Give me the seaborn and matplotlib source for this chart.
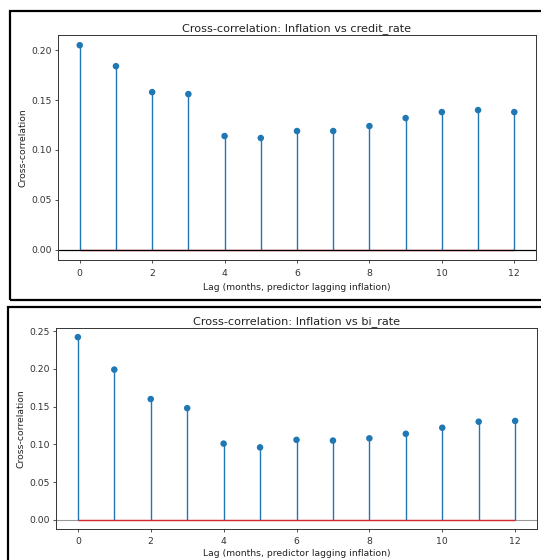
import numpy as np
import matplotlib
matplotlib.use("Agg")
import matplotlib.pyplot as plt
import seaborn as sns
from matplotlib.patches import Rectangle

lags = list(range(13))
credit_rate_ccf = [0.205, 0.184, 0.158, 0.156, 0.114, 0.112, 0.119, 0.119, 0.124, 0.132, 0.138, 0.140, 0.138]
bi_rate_ccf = [0.242, 0.199, 0.160, 0.148, 0.101, 0.096, 0.106, 0.105, 0.108, 0.114, 0.122, 0.130, 0.131]
titles = ["Cross-correlation: Inflation vs credit_rate", "Cross-correlation: Inflation vs bi_rate"]
xlabel = "Lag (months, predictor lagging inflation)"
ylabel = "Cross-correlation"

sns.set_style("ticks", rc={"axes.edgecolor": "#333333", "xtick.color": "#333333",
                           "ytick.color": "#333333", "text.color": "#222222",
                           "axes.labelcolor": "#222222"})
plt.rcParams['font.family'] = ['DejaVu Sans']

W, H = 541, 560
fig = plt.figure(figsize=(W / 100, H / 100), dpi=100)

def px_axes(l, t, r, b):
    return fig.add_axes([l / W, 1 - b / H, (r - l) / W, (b - t) / H])

# panel borders
fig.patches.append(Rectangle((10 / W, 1 - 300 / H), 540 / W, 289 / H, transform=fig.transFigure,
                             fill=False, edgecolor="black", linewidth=1.6, zorder=0))
fig.patches.append(Rectangle((8 / W, 1 - 570 / H), 545 / W, 263 / H, transform=fig.transFigure,
                             fill=False, edgecolor="black", linewidth=1.6, zorder=0))

ax1 = px_axes(58, 35, 536, 260)
ax2 = px_axes(56, 328, 537, 529)

def draw(ax, vals, title, zero_color, zero_first, xpad, xlabpad):
    if zero_first:
        ax.axhline(0, color=zero_color, linewidth=0.8, zorder=1)
    ax.vlines(lags, 0, vals, color="C0", linewidth=1.0, zorder=2)
    ax.hlines(0, lags[0], lags[-1], color="C3", linewidth=1.0, zorder=2)
    sns.scatterplot(x=lags, y=vals, ax=ax, color="C0", s=22, edgecolor="none", zorder=3)
    if not zero_first:
        ax.axhline(0, color=zero_color, linewidth=0.9, zorder=2.5)
    ax.set_title(title, fontsize=8.1, pad=3)
    ax.set_xlabel(xlabel, fontsize=6.7, labelpad=xlabpad)
    ax.set_ylabel(ylabel, fontsize=6.7, labelpad=3)
    ax.set_xticks(range(0, 13, 2))
    ax.tick_params(labelsize=6.7, length=2.5, width=0.6, pad=2)
    ax.tick_params(axis="x", pad=xpad)
    for s in ax.spines.values():
        s.set_linewidth(0.7)
    ax.set_xlim(-0.6, 12.6)

draw(ax1, credit_rate_ccf, titles[0], "black", False, 4.0, 3.5)
ax1.set_yticks(np.arange(0, 0.21, 0.05))
ax1.set_ylim(-0.01025, 0.21525)
draw(ax2, bi_rate_ccf, titles[1], "#999999", True, 3.0, 2.5)
ax2.set_yticks(np.arange(0, 0.251, 0.05))
ax2.set_ylim(-0.0121, 0.2541)
for ax in (ax1, ax2):
    ax.yaxis.set_major_formatter(matplotlib.ticker.FormatStrFormatter("%.2f"))

fig.savefig("out.png", dpi=100)
